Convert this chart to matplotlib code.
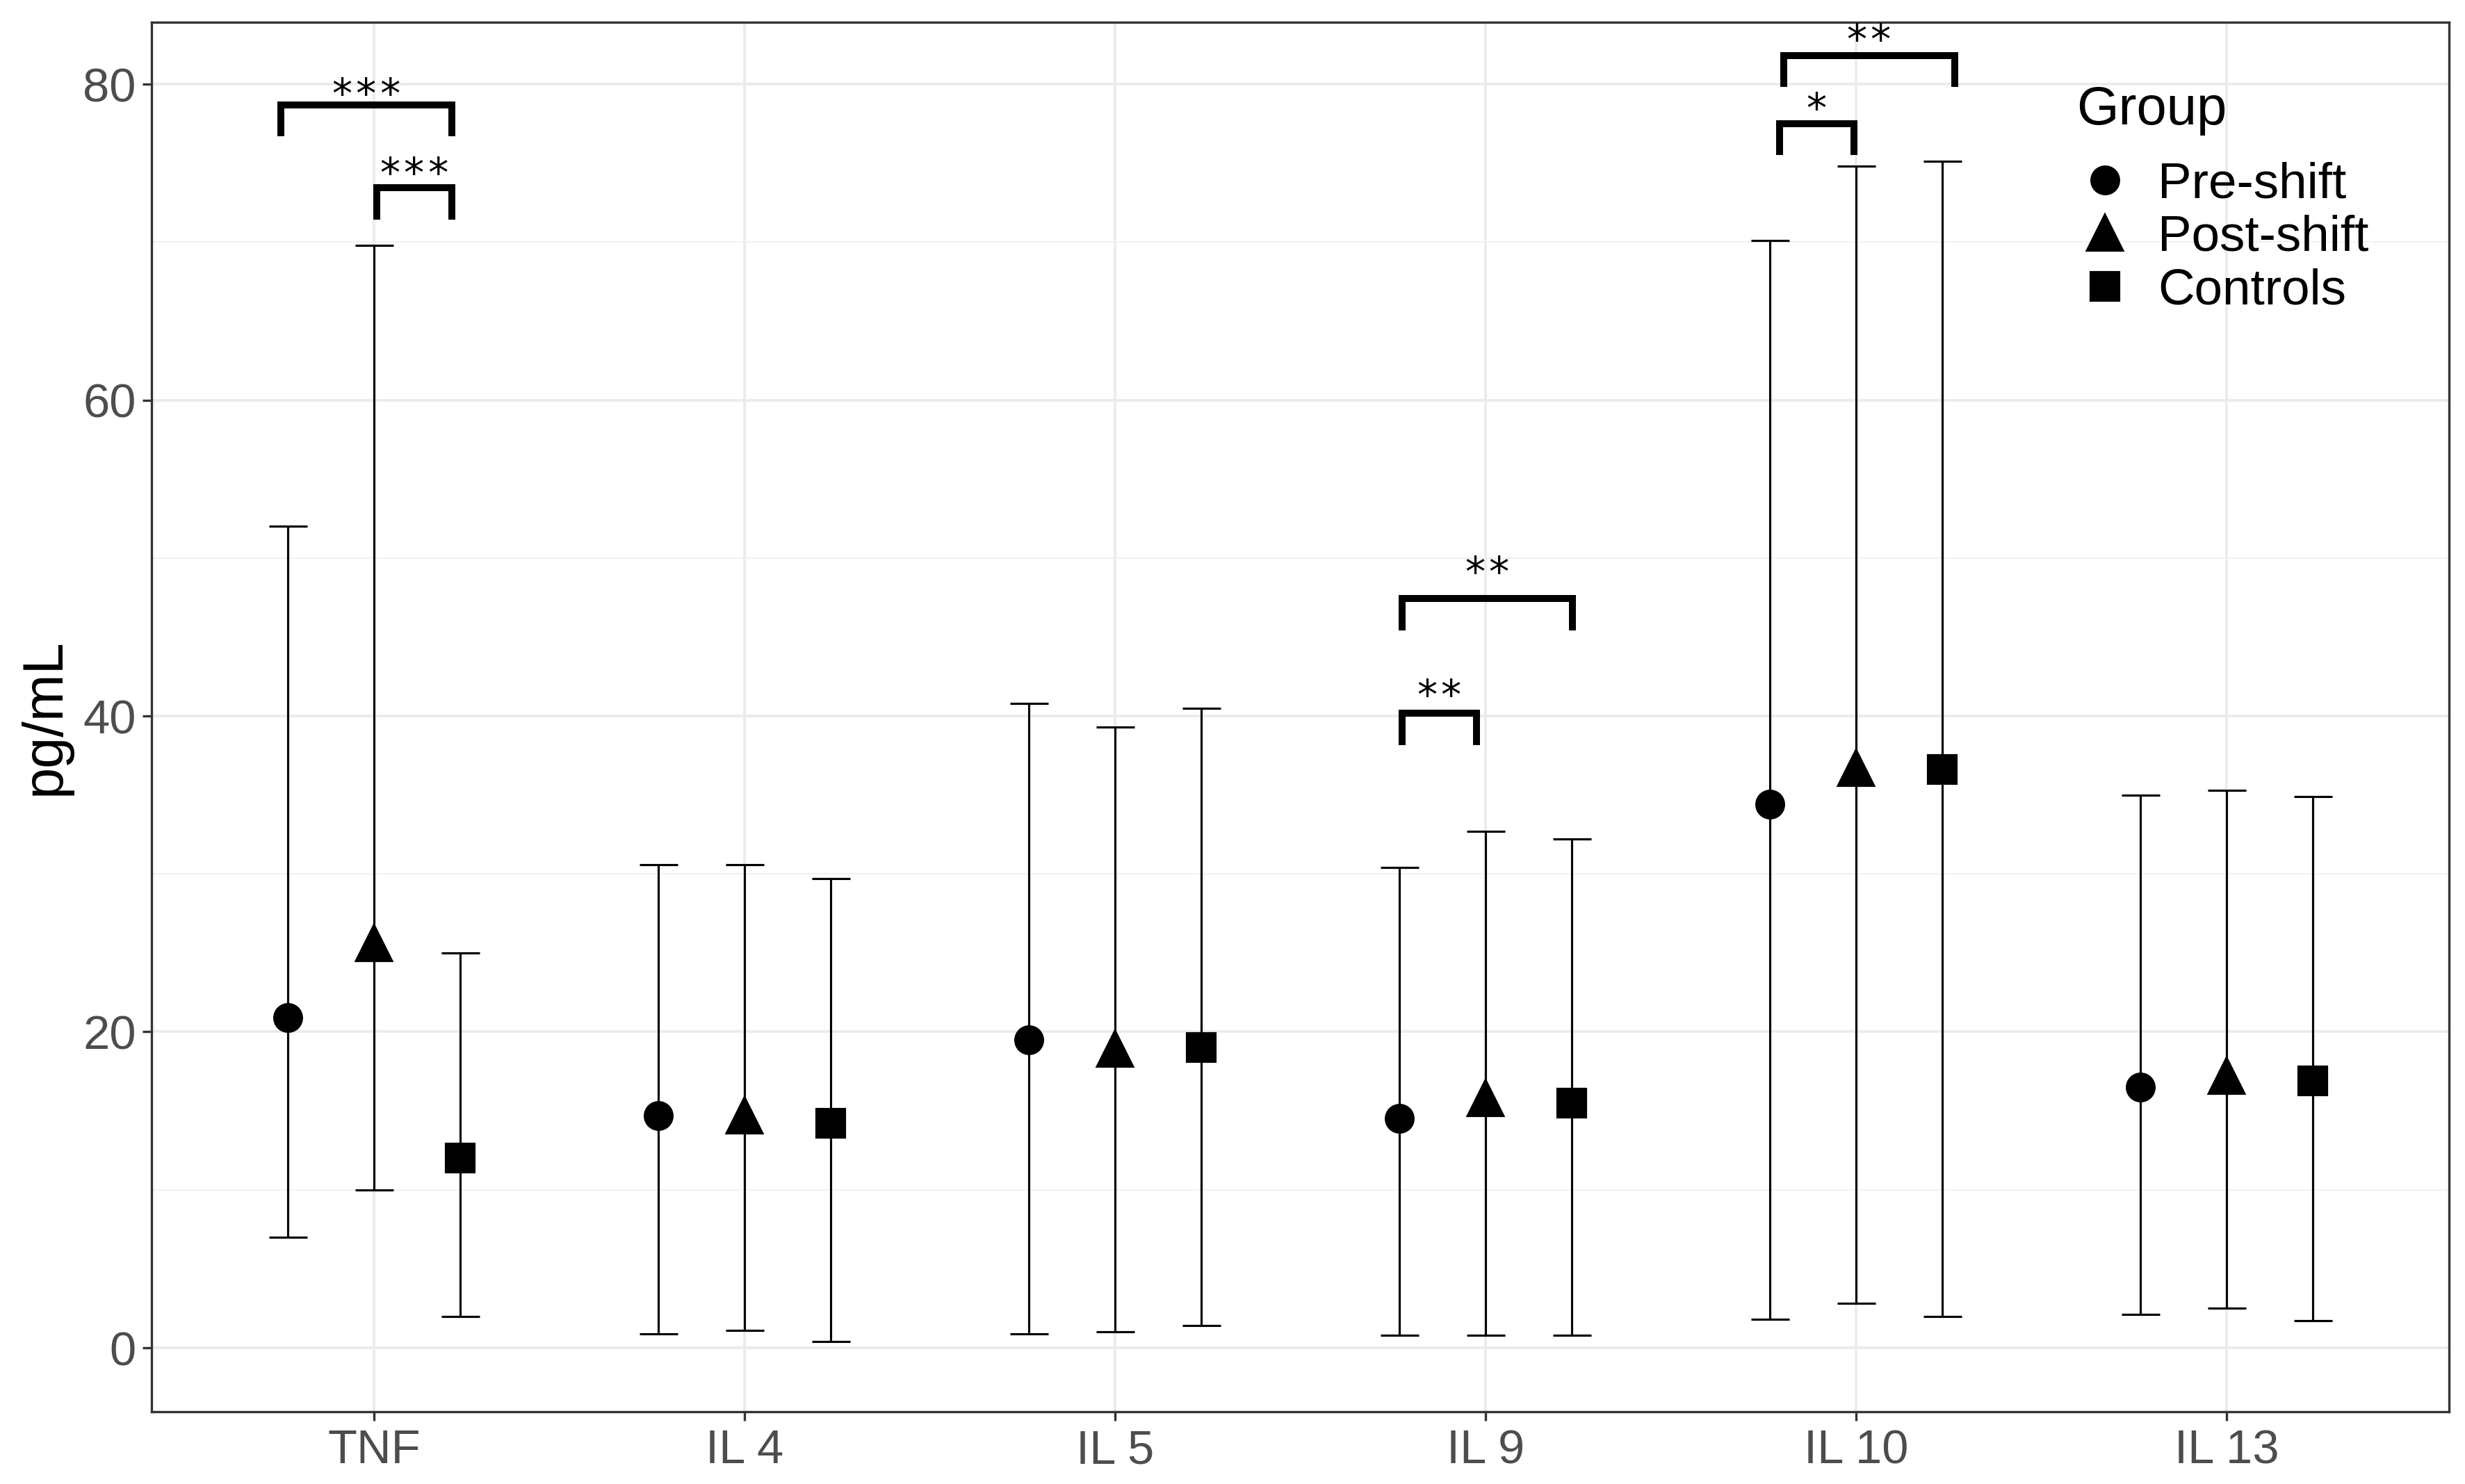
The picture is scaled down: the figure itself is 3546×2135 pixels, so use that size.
import matplotlib.pyplot as plt
import numpy as np

plt.rcParams['font.family'] = ['Liberation Sans', 'DejaVu Sans']

# data
cytokines = ['TNF', 'IL 4', 'IL 5', 'IL 9', 'IL 10', 'IL 13']
groups = ['Pre-shift', 'Post-shift', 'Controls']

pre_mid = [20.9, 14.7, 19.5, 14.5, 34.4, 16.5]
pre_low = [7.0, 0.9, 0.9, 0.8, 1.8, 2.1]
pre_high = [52.0, 30.6, 40.8, 30.4, 70.1, 35.0]

post_mid = [25.6, 14.7, 18.9, 15.8, 36.7, 17.2]
post_low = [10.0, 1.1, 1.0, 0.8, 2.8, 2.5]
post_high = [69.8, 30.6, 39.3, 32.7, 74.8, 35.3]

ctrl_mid = [12.0, 14.2, 19.0, 15.5, 36.6, 16.9]
ctrl_low = [2.0, 0.4, 1.4, 0.8, 2.0, 1.7]
ctrl_high = [25.0, 29.7, 40.5, 32.2, 75.1, 34.9]

# significance brackets (x in category units, y in pg/mL)
sig_x1 = [0.749, 1.008, 3.775, 3.775, 4.804, 4.793]
sig_x2 = [1.210, 1.210, 4.234, 3.975, 5.266, 4.994]
sig_y = [78.68, 73.44, 47.43, 40.17, 81.81, 77.49]
sig_text_y = [79.83, 74.77, 49.55, 41.76, 83.22, 78.9]
sig_label = ['***', '***', '**', '**', '**', '*']

mids = [pre_mid, post_mid, ctrl_mid]
lows = [pre_low, post_low, ctrl_low]
highs = [pre_high, post_high, ctrl_high]
markers = ['o', '^', 's']
msizes = [9.3, 12, 9.6]

fig = plt.figure(figsize=(11.82, 7.117), dpi=300)
ax = fig.add_axes([0.0615, 0.0487, 0.932, 0.9363])

x = np.arange(1, len(cytokines) + 1)
dodge = [-0.233, 0.0, 0.233]

for i in range(3):
    xi = x + dodge[i]
    m = np.array(mids[i])
    lo = m - np.array(lows[i])
    hi = np.array(highs[i]) - m
    ax.errorbar(xi, m, yerr=[lo, hi], fmt='none', ecolor='black',
                elinewidth=0.75, capsize=6.6, capthick=0.75, zorder=3)
    ax.plot(xi, m, linestyle='none', marker=markers[i], color='black',
            markersize=msizes[i], label=groups[i], zorder=4)

# brackets with stars
leg_h = 2.0
for x1, x2, yy, ty, lab in zip(sig_x1, sig_x2, sig_y, sig_text_y, sig_label):
    ax.plot([x1, x1, x2, x2], [yy - leg_h, yy, yy, yy - leg_h], color='black',
            lw=2.4, solid_capstyle='butt', solid_joinstyle='miter', zorder=5)
    ax.text((x1 + x2) / 2, ty - 1.3, lab, ha='center', va='baseline',
            fontsize=14, family='DejaVu Sans Mono', zorder=5)

ax.set_xlim(0.4, 6.6)
ax.set_ylim(-4.05, 83.92)
ax.set_xticks(x)
ax.set_xticklabels(cytokines)
ax.set_yticks([0, 20, 40, 60, 80])
ax.set_yticks([10, 30, 50, 70], minor=True)
ax.tick_params(axis='both', which='major', labelsize=16.5, colors='#333333',
               labelcolor='#4D4D4D', length=3.2, width=0.8)
ax.tick_params(axis='y', which='major', pad=2.2)
ax.tick_params(axis='x', which='major', pad=2.6)
ax.tick_params(axis='y', which='minor', length=0)
ax.grid(True, which='major', color='#EBEBEB', lw=0.9, zorder=0)
ax.grid(True, which='minor', axis='y', color='#F2F2F2', lw=0.5, zorder=0)
ax.set_axisbelow(True)
for sp in ax.spines.values():
    sp.set_color('#333333')
    sp.set_linewidth(0.8)

ax.set_ylabel('pg/mL', fontsize=19.5, labelpad=4)

leg = ax.legend(title='Group', loc='upper left', bbox_to_anchor=(0.838, 0.955),
                frameon=False, fontsize=17.5, title_fontsize=18.7,
                handletextpad=0.5, labelspacing=0.13, handlelength=1.1,
                borderaxespad=0, borderpad=0)
leg._legend_box.align = 'left'
leg._legend_box.sep = 9

fig.savefig('out.png', dpi=300)
